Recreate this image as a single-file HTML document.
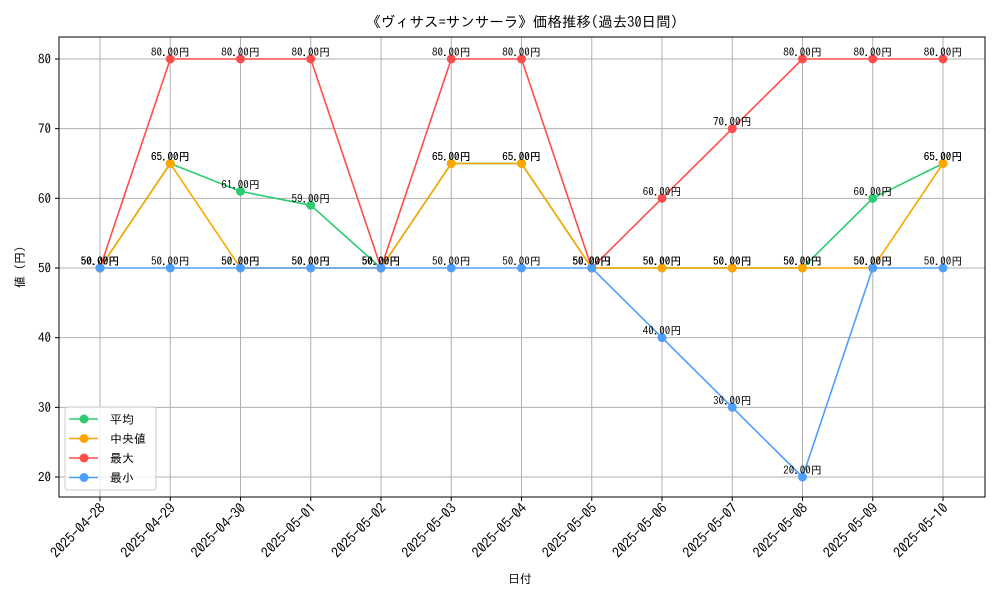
<!DOCTYPE html>
<html><head><meta charset="utf-8"><style>
body{margin:0;background:#fff;}
svg{display:block;font-family:"IPAGothic","Noto Sans CJK JP",sans-serif;}
</style></head><body>
<svg id="chart" width="1000" height="600" viewBox="0 0 1000 600">
<rect width="1000" height="600" fill="#fff"/>
<text x="522" y="27" text-anchor="middle" font-size="14.5">《ヴィサス=サンサーラ》価格推移(過去30日間)</text>
<g id="grid"></g>
<g id="series"></g>
<rect x="59" y="37" width="926" height="460" fill="none" stroke="#000" stroke-width="1"/>
<g id="axes"></g>
<text x="520" y="583" text-anchor="middle" font-size="12">日付</text>
<text transform="translate(24,267) rotate(-90)" text-anchor="middle" font-size="12">値 (円)</text>
<g id="legend"></g>
</svg>
<script>
const dates=["2025-04-28","2025-04-29","2025-04-30","2025-05-01","2025-05-02","2025-05-03","2025-05-04","2025-05-05","2025-05-06","2025-05-07","2025-05-08","2025-05-09","2025-05-10"];
const avgVals=[50,65,61,59,50,65,65,50,50,50,50,60,65];
const medianVals=[50,65,50,50,50,65,65,50,50,50,50,50,65];
const maxVals=[50,80,80,80,50,80,80,50,60,70,80,80,80];
const minVals=[50,50,50,50,50,50,50,50,40,30,20,50,50];
const yTicks=[20,30,40,50,60,70,80];
const seriesNames=["平均","中央値","最大","最小"];
const colors=["#2ecc71","#ffa500","#ff4d4d","#4d9fff"];
const NS="http://www.w3.org/2000/svg";
function xs(i){return 100+i*(943-100)/12;}
function ys(v){return 477-(v-20)*(477-59)/60;}
function mk(tag,attrs,parent){const e=document.createElementNS(NS,tag);for(const k in attrs)e.setAttribute(k,attrs[k]);parent.appendChild(e);return e;}
const grid=document.getElementById('grid'),axes=document.getElementById('axes'),ser=document.getElementById('series'),leg=document.getElementById('legend');
dates.forEach((d,i)=>{
  const x=xs(i);
  const g=mk('line',{x1:x,x2:x,y1:37,y2:497,stroke:'#b0b0b0','stroke-width':1},grid);
  
  
  const t=mk('line',{x1:x,x2:x,y1:497,y2:501,stroke:'#000'},axes);
  
  
  const lb=mk('text',{transform:`translate(${x+6},${509}) rotate(-45)`,'text-anchor':'end','font-size':14},axes);
  lb.textContent=d;
  
  
});
yTicks.forEach(v=>{
  const y=ys(v);
  const g=mk('line',{x1:59,x2:985,y1:y,y2:y,stroke:'#b0b0b0','stroke-width':1},grid);
  
  
  const t=mk('line',{x1:55,x2:59,y1:y,y2:y,stroke:'#000'},axes);
  
  
  const lb=mk('text',{x:51,y:y+4.5,'text-anchor':'end','font-size':13},axes);
  lb.textContent=v;
  
  
});
const allSeries=[avgVals,medianVals,maxVals,minVals];
allSeries.forEach((vals,s)=>{
  const g=mk('g',{},ser);
  
  
  const p=mk('polyline',{points:vals.map((v,i)=>xs(i)+','+ys(v)).join(' '),fill:'none',stroke:colors[s],'stroke-width':1.6},g);
  
  
  vals.forEach((v,i)=>{
    const c=mk('circle',{cx:xs(i),cy:ys(v),r:4.5,fill:colors[s]},g);
    
    
    const t=mk('text',{x:xs(i),y:ys(v)-3,'text-anchor':'middle','font-size':11},g);
    t.textContent=v.toFixed(2)+'円';
    
    
  });
});
const lbox=mk('rect',{x:65,y:407,width:91,height:83,rx:3,fill:'#fff','fill-opacity':0.8,stroke:'#ccc'},leg);


seriesNames.forEach((n,s)=>{
  const y=419+s*19.5;
  const g=mk('g',{},leg);
  
  
  mk('line',{x1:69,x2:98,y1:y,y2:y,stroke:colors[s],'stroke-width':1.6},g);
  mk('circle',{cx:84,cy:y,r:4.5,fill:colors[s]},g);
  const t=mk('text',{x:110,y:y+4.5,'font-size':12},g);
  t.textContent=n;
});
</script>
</body></html>
